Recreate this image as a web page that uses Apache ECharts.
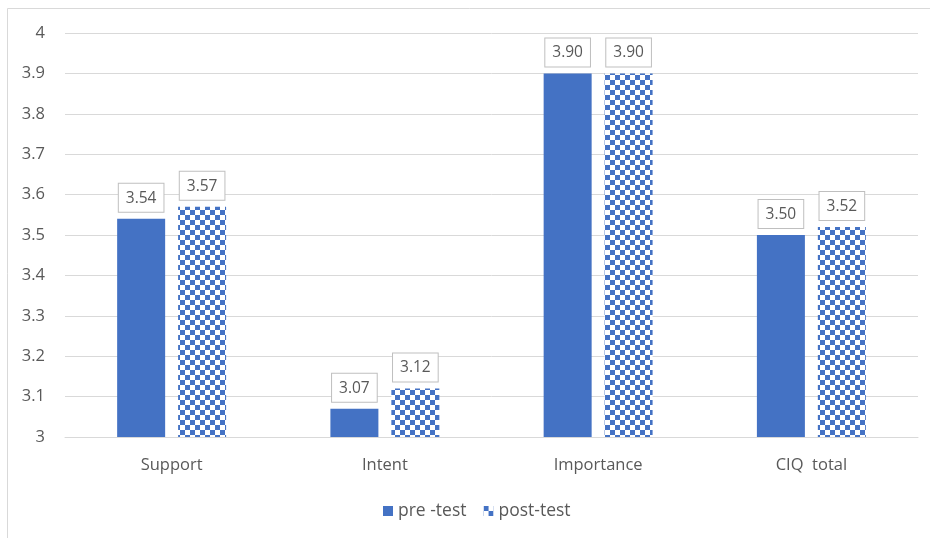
<!DOCTYPE html>
<html>
<head>
<meta charset="utf-8">
<script src="https://cdn.jsdelivr.net/npm/echarts@6/dist/echarts.min.js"></script>
<style>
  html, body { margin: 0; padding: 0; background: #fff; }
  #chart { width: 930px; height: 538px; }
</style>
</head>
<body>
<div id="chart"></div>
<script>
// Mean scores per scale, before and after the intervention
const categories = ['Support', 'Intent', 'Importance', 'CIQ  total'];
const preTest = [3.54, 3.07, 3.90, 3.50];
const postTest = [3.57, 3.12, 3.90, 3.52];
const yTicks = ['3', '3.1', '3.2', '3.3', '3.4', '3.5', '3.6', '3.7', '3.8', '3.9', '4'];

const BLUE = '#4472C4';
const TEXT = '#595959';
const FONT = '"Open Sans", "Liberation Sans", sans-serif';

// Blue/white checkerboard fill for the post-test bars
function checkerPattern(cell) {
  const c = document.createElement('canvas');
  c.width = cell * 2;
  c.height = cell * 2;
  const ctx = c.getContext('2d');
  ctx.fillStyle = '#ffffff';
  ctx.fillRect(0, 0, c.width, c.height);
  ctx.fillStyle = BLUE;
  ctx.fillRect(0, 0, cell, cell);
  ctx.fillRect(cell, cell, cell, cell);
  return c;
}
const checker = { image: checkerPattern(5), repeat: 'repeat' };

const valueLabel = {
  show: true,
  position: 'top',
  distance: 7,
  formatter: p => p.value.toFixed(2),
  color: TEXT,
  fontFamily: FONT,
  fontSize: 15.5,
  lineHeight: 19,
  backgroundColor: '#ffffff',
  borderColor: '#bfbfbf',
  borderWidth: 1,
  padding: [5, 7, 4, 7]
};

const chart = echarts.init(document.getElementById('chart'), null, { renderer: 'canvas' });
chart.setOption({
  animation: false,
  backgroundColor: '#ffffff',
  graphic: [{
    type: 'rect',
    shape: { x: 7.5, y: 8.5, width: 960, height: 600 },
    style: { fill: 'none', stroke: '#d9d9d9', lineWidth: 1 },
    silent: true,
    z: -1
  }],
  grid: { left: 65, right: 12, top: 33, bottom: 101, containLabel: false },
  legend: {
    bottom: 13,
    left: 378,
    itemWidth: 10,
    itemHeight: 10,
    itemGap: 17,
    icon: 'rect',
    textStyle: { color: TEXT, fontFamily: FONT, fontSize: 17.5 },
    data: ['pre -test', 'post-test']
  },
  xAxis: {
    type: 'category',
    data: categories,
    axisLine: { show: true, lineStyle: { color: '#d9d9d9' } },
    axisTick: { show: false },
    axisLabel: { color: TEXT, fontFamily: FONT, fontSize: 16.5, margin: 20 }
  },
  yAxis: {
    type: 'value',
    min: 3,
    max: 4,
    interval: 0.1,
    axisLine: { show: false },
    axisTick: { show: false },
    splitLine: { lineStyle: { color: '#d9d9d9', width: 1 } },
    axisLabel: {
      color: TEXT,
      fontFamily: FONT,
      fontSize: 16.5,
      margin: 20,
      formatter: v => yTicks[Math.round((v - 3) * 10)]
    }
  },
  series: [
    {
      name: 'pre -test',
      type: 'bar',
      data: preTest,
      barWidth: 48,
      barGap: '27%',
      itemStyle: { color: BLUE },
      label: valueLabel
    },
    {
      name: 'post-test',
      type: 'bar',
      data: postTest,
      barWidth: 48,
      itemStyle: { color: checker },
      label: valueLabel
    }
  ]
});
</script>
</body>
</html>
